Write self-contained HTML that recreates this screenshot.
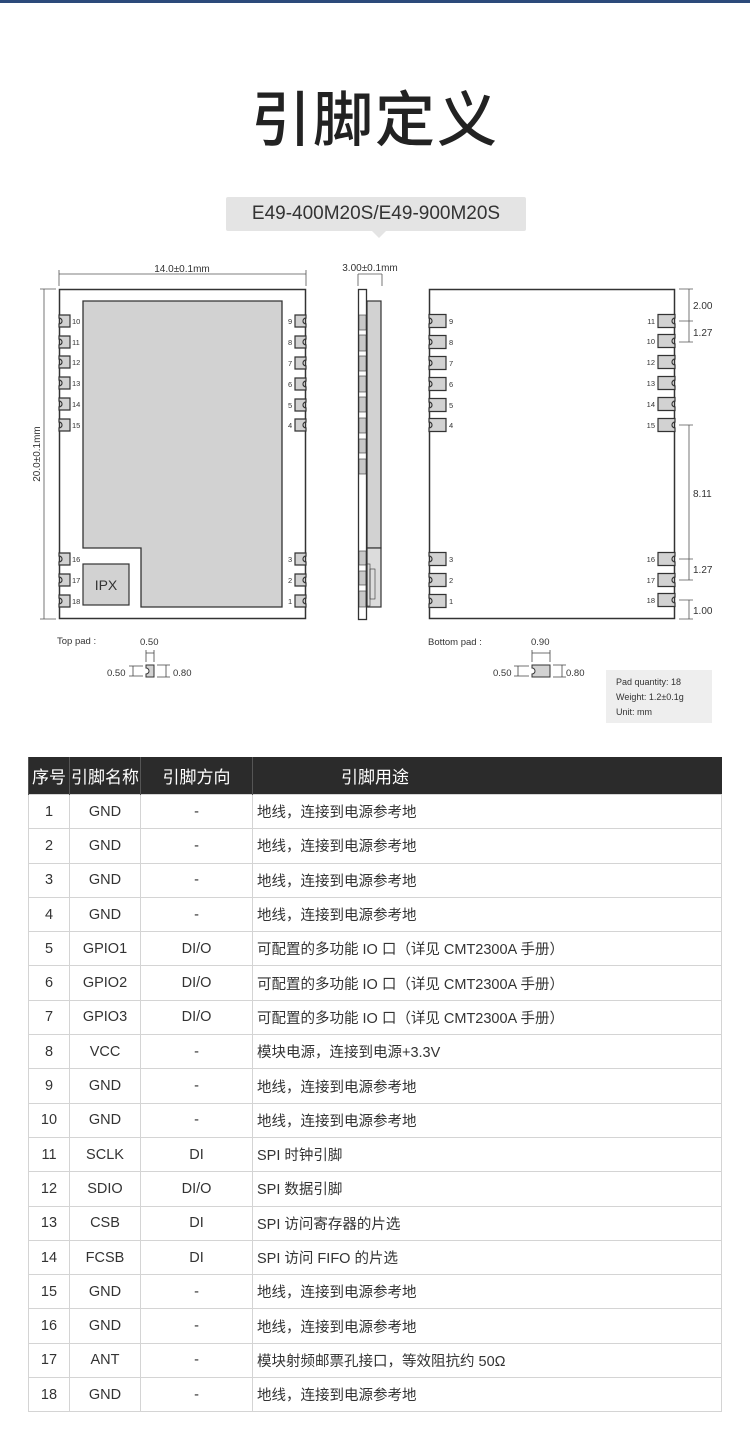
<!DOCTYPE html>
<html><head><meta charset="utf-8"><style>
body{margin:0;width:750px;height:1432px;background:#fff;position:relative;overflow:hidden;font-family:"Liberation Sans","Noto Sans CJK SC",sans-serif;color:#333}
.bar{position:absolute;left:0;top:0;width:750px;height:3px;background:#2c4a7a}
.title{position:absolute;left:0;width:750px;top:76px;text-align:center;font-size:60px;color:#222;font-family:"Noto Sans CJK SC",sans-serif;font-weight:500;letter-spacing:2px;line-height:80px}
.tag{position:absolute;left:226px;top:197px;width:300px;height:34px;background:#e4e4e4;border-radius:2px;text-align:center;font-size:19px;line-height:34px;color:#333}
.tag:after{content:"";position:absolute;left:146px;top:34px;border:7px solid transparent;border-top-color:#e4e4e4}
svg{position:absolute;left:0;top:0}
table{position:absolute;left:28px;top:757px;width:694px;border-collapse:collapse;font-family:"Liberation Sans","Noto Sans CJK SC",sans-serif}
th{background:#2b2b2b;color:#fff;font-weight:normal;font-size:17px;height:37px;padding:0;border-left:1px solid #555}
td{height:33.3px;padding:0;font-size:14.5px;color:#333;border:1px solid #d4d4d4;text-align:center}
td.d{text-align:left;padding-left:4px}
</style></head><body>
<div class="bar"></div>
<div class="title">引脚定义</div>
<div class="tag">E49-400M20S/E49-900M20S</div>
<svg width="750" height="740" viewBox="0 0 750 740" font-family="Liberation Sans, sans-serif">
<defs>
<g id="pl"><path d="M0,-6 H11 V6 H0 V3 A3,3 0 0 0 0,-3 Z" fill="#d2d2d2" stroke="#333" stroke-width="1.2"/></g>
<g id="pr"><path d="M0,-6 H-11 V6 H0 V3 A3,3 0 0 1 0,-3 Z" fill="#d2d2d2" stroke="#333" stroke-width="1.2"/></g>
<g id="bl"><path d="M0,-6.5 H17 V6.5 H0 V3 A3,3 0 0 0 0,-3 Z" fill="#d2d2d2" stroke="#333" stroke-width="1.2"/></g>
<g id="br"><path d="M0,-6.5 H-17 V6.5 H0 V3 A3,3 0 0 1 0,-3 Z" fill="#d2d2d2" stroke="#333" stroke-width="1.2"/></g>
</defs>
<g stroke="#555" stroke-width="0.8" fill="none">
<path d="M59,274 H306 M59,270 V286 M306,270 V286"/>
<path d="M44,289 V619 M40,289 H56 M40,619 H56"/>
<path d="M358,274 V286 M382,274 V286 M358,274 H382"/>
</g>
<text x="182" y="272" font-size="10" text-anchor="middle" fill="#333">14.0±0.1mm</text>
<text x="370" y="271" font-size="10" text-anchor="middle" fill="#333">3.00±0.1mm</text>
<text transform="translate(40,454) rotate(-90)" font-size="10" text-anchor="middle" fill="#333">20.0±0.1mm</text>
<rect x="59.5" y="289.5" width="246" height="329" fill="#fff" stroke="#333" stroke-width="1.5"/>
<path d="M83,301 H282 V607 H141 V548 H83 Z" fill="#d2d2d2" stroke="#333" stroke-width="1.3"/>
<rect x="83" y="564" width="46" height="41" fill="#d2d2d2" stroke="#333" stroke-width="1.2"/>
<text x="106" y="590" font-size="14" text-anchor="middle" fill="#333">IPX</text>
<g font-size="7.5" fill="#333">
<use href="#pl" x="59" y="321"/><text x="72" y="324">10</text>
<use href="#pl" x="59" y="342"/><text x="72" y="345">11</text>
<use href="#pl" x="59" y="362"/><text x="72" y="365">12</text>
<use href="#pl" x="59" y="383"/><text x="72" y="386">13</text>
<use href="#pl" x="59" y="404"/><text x="72" y="407">14</text>
<use href="#pl" x="59" y="425"/><text x="72" y="428">15</text>
<use href="#pl" x="59" y="559"/><text x="72" y="562">16</text>
<use href="#pl" x="59" y="580"/><text x="72" y="583">17</text>
<use href="#pl" x="59" y="601"/><text x="72" y="604">18</text>
<use href="#pr" x="306" y="321"/><text x="288" y="324">9</text>
<use href="#pr" x="306" y="342"/><text x="288" y="345">8</text>
<use href="#pr" x="306" y="363"/><text x="288" y="366">7</text>
<use href="#pr" x="306" y="384"/><text x="288" y="387">6</text>
<use href="#pr" x="306" y="405"/><text x="288" y="408">5</text>
<use href="#pr" x="306" y="425"/><text x="288" y="428">4</text>
<use href="#pr" x="306" y="559"/><text x="288" y="562">3</text>
<use href="#pr" x="306" y="580"/><text x="288" y="583">2</text>
<use href="#pr" x="306" y="601"/><text x="288" y="604">1</text>
</g>
<rect x="358.5" y="289.5" width="8" height="330" fill="#fff" stroke="#333" stroke-width="1.3"/>
<rect x="367" y="301" width="14" height="247" fill="#d2d2d2" stroke="#333" stroke-width="1.2"/>
<rect x="367" y="548" width="14" height="59" fill="#dcdcdc" stroke="#333" stroke-width="1.2"/>
<g fill="#c8c8c8" stroke="#333" stroke-width="0.6">
<rect x="359" y="315" width="7" height="15"/><rect x="359" y="335" width="7" height="16"/><rect x="359" y="356" width="7" height="15"/><rect x="359" y="376" width="7" height="16"/><rect x="359" y="397" width="7" height="15"/><rect x="359" y="418" width="7" height="15"/><rect x="359" y="439" width="7" height="14"/><rect x="359" y="459" width="7" height="15"/>
<rect x="359" y="551" width="7" height="14"/><rect x="359" y="571" width="7" height="14"/><rect x="359" y="591" width="7" height="16"/>
<rect x="366" y="564" width="4" height="42" fill="none"/><rect x="370" y="569" width="5" height="30" fill="none"/>
</g>
<rect x="429.5" y="289.5" width="245" height="329" fill="#fff" stroke="#333" stroke-width="1.5"/>
<g font-size="7.5" fill="#333">
<use href="#bl" x="429" y="321"/><text x="449" y="324">9</text>
<use href="#bl" x="429" y="342"/><text x="449" y="345">8</text>
<use href="#bl" x="429" y="363"/><text x="449" y="366">7</text>
<use href="#bl" x="429" y="384"/><text x="449" y="387">6</text>
<use href="#bl" x="429" y="405"/><text x="449" y="408">5</text>
<use href="#bl" x="429" y="425"/><text x="449" y="428">4</text>
<use href="#bl" x="429" y="559"/><text x="449" y="562">3</text>
<use href="#bl" x="429" y="580"/><text x="449" y="583">2</text>
<use href="#bl" x="429" y="601"/><text x="449" y="604">1</text>
<use href="#br" x="675" y="321"/><text x="655" y="324" text-anchor="end">11</text>
<use href="#br" x="675" y="341"/><text x="655" y="344" text-anchor="end">10</text>
<use href="#br" x="675" y="362"/><text x="655" y="365" text-anchor="end">12</text>
<use href="#br" x="675" y="383"/><text x="655" y="386" text-anchor="end">13</text>
<use href="#br" x="675" y="404"/><text x="655" y="407" text-anchor="end">14</text>
<use href="#br" x="675" y="425"/><text x="655" y="428" text-anchor="end">15</text>
<use href="#br" x="675" y="559"/><text x="655" y="562" text-anchor="end">16</text>
<use href="#br" x="675" y="580"/><text x="655" y="583" text-anchor="end">17</text>
<use href="#br" x="675" y="600"/><text x="655" y="603" text-anchor="end">18</text>
</g>
<g stroke="#555" stroke-width="0.8" fill="none">
<path d="M679,289 H693 M689,289 V342 M679,321 H693 M679,342 H693"/>
<path d="M679,425 H693 M689,425 V580 M679,559 H693 M679,580 H693"/>
<path d="M679,600 H693 M689,600 V619 M679,619 H693"/>
</g>
<g font-size="10" fill="#333">
<text x="693" y="309">2.00</text><text x="693" y="336">1.27</text>
<text x="693" y="497">8.11</text><text x="693" y="573">1.27</text><text x="693" y="614">1.00</text>
</g>
<g font-size="9.5" fill="#333">
<text x="57" y="644">Top pad :</text><text x="140" y="645">0.50</text>
<text x="107" y="676">0.50</text><text x="173" y="676">0.80</text>
<text x="428" y="645">Bottom pad :</text><text x="531" y="645">0.90</text>
<text x="493" y="676">0.50</text><text x="566" y="676">0.80</text>
</g>
<g stroke="#444" stroke-width="0.8" fill="none">
<path d="M146,650 V662 M154,650 V662 M146,653 H154"/>
<path d="M129,666 H143 M129,676 H143 M133,666 V676 M157,665 H170 M157,677 H170 M166,665 V677"/>
<path d="M532,650 V662 M550,650 V662 M532,653 H550"/>
<path d="M514,666 H529 M514,676 H529 M518,666 V676 M553,665 H566 M553,677 H566 M562,665 V677"/>
</g>
<path d="M146,665 H154 V677 H146 V674 A3,3 0 0 0 146,668 Z" fill="#d2d2d2" stroke="#333" stroke-width="1"/>
<path d="M532,665 H550 V677 H532 V674 A3,3 0 0 0 532,668 Z" fill="#d2d2d2" stroke="#333" stroke-width="1"/>
<rect x="606" y="670" width="106" height="53" fill="#eeeeee"/>
<g font-size="9" fill="#333"><text x="616" y="685">Pad quantity:  18</text><text x="616" y="700">Weight:  1.2±0.1g</text><text x="616" y="715">Unit:  mm</text></g>
</svg>
<table>
<colgroup><col style="width:41px"><col style="width:71px"><col style="width:112px"><col></colgroup>
<tr><th>序号</th><th>引脚名称</th><th>引脚方向</th><th style="text-align:left;padding-left:88px">引脚用途</th></tr>
<tr><td>1</td><td>GND</td><td>-</td><td class="d">地线，连接到电源参考地</td></tr>
<tr><td>2</td><td>GND</td><td>-</td><td class="d">地线，连接到电源参考地</td></tr>
<tr><td>3</td><td>GND</td><td>-</td><td class="d">地线，连接到电源参考地</td></tr>
<tr><td>4</td><td>GND</td><td>-</td><td class="d">地线，连接到电源参考地</td></tr>
<tr><td>5</td><td>GPIO1</td><td>DI/O</td><td class="d">可配置的多功能 IO 口（详见 CMT2300A 手册）</td></tr>
<tr><td>6</td><td>GPIO2</td><td>DI/O</td><td class="d">可配置的多功能 IO 口（详见 CMT2300A 手册）</td></tr>
<tr><td>7</td><td>GPIO3</td><td>DI/O</td><td class="d">可配置的多功能 IO 口（详见 CMT2300A 手册）</td></tr>
<tr><td>8</td><td>VCC</td><td>-</td><td class="d">模块电源，连接到电源+3.3V</td></tr>
<tr><td>9</td><td>GND</td><td>-</td><td class="d">地线，连接到电源参考地</td></tr>
<tr><td>10</td><td>GND</td><td>-</td><td class="d">地线，连接到电源参考地</td></tr>
<tr><td>11</td><td>SCLK</td><td>DI</td><td class="d">SPI 时钟引脚</td></tr>
<tr><td>12</td><td>SDIO</td><td>DI/O</td><td class="d">SPI 数据引脚</td></tr>
<tr><td>13</td><td>CSB</td><td>DI</td><td class="d">SPI 访问寄存器的片选</td></tr>
<tr><td>14</td><td>FCSB</td><td>DI</td><td class="d">SPI 访问 FIFO 的片选</td></tr>
<tr><td>15</td><td>GND</td><td>-</td><td class="d">地线，连接到电源参考地</td></tr>
<tr><td>16</td><td>GND</td><td>-</td><td class="d">地线，连接到电源参考地</td></tr>
<tr><td>17</td><td>ANT</td><td>-</td><td class="d">模块射频邮票孔接口，等效阻抗约 50Ω</td></tr>
<tr><td>18</td><td>GND</td><td>-</td><td class="d">地线，连接到电源参考地</td></tr>
</table>
</body></html>
